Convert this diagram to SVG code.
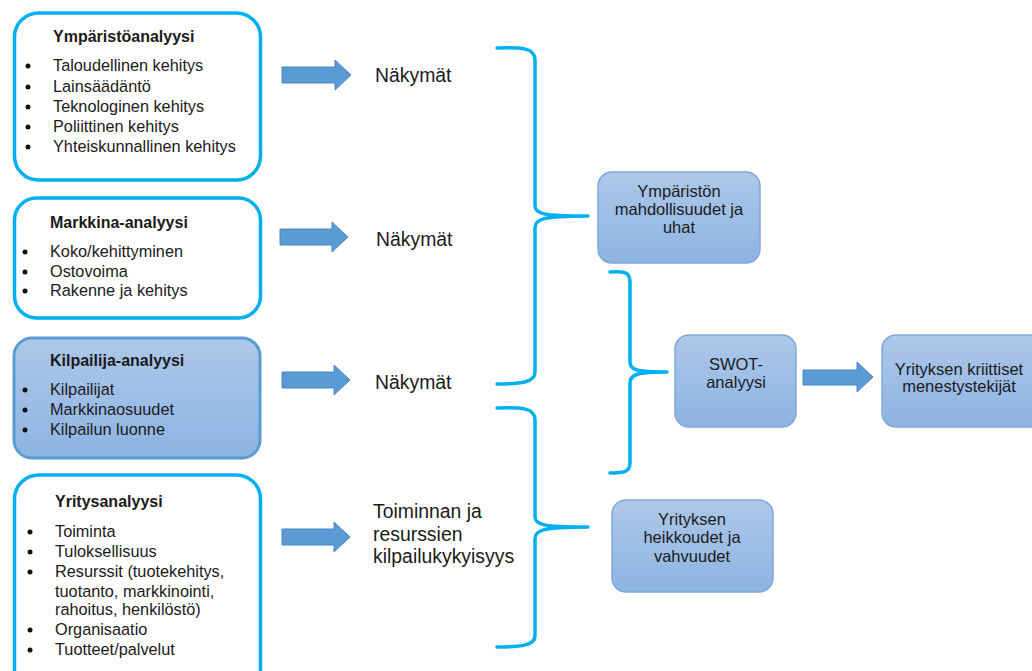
<svg xmlns="http://www.w3.org/2000/svg" width="1032" height="671" viewBox="0 0 1032 671">
  <defs>
    <linearGradient id="blueFill" x1="0" y1="0" x2="0" y2="1">
      <stop offset="0" stop-color="#adc8e9"/>
      <stop offset="1" stop-color="#8db3e2"/>
    </linearGradient>
    <style>
      text { font-family: "Liberation Sans", Arial, sans-serif; fill: #1a1a1a; }
      .title { font-size: 16px; font-weight: bold; }
      .item { font-size: 16.3px; }
      .big { font-size: 19.4px; }
      .ctr { font-size: 16.5px; text-anchor: middle; }
      .outline { fill: #ffffff; stroke: #00b0f0; stroke-width: 3.5; }
      .shaded { fill: url(#blueFill); stroke: #5b9bd5; stroke-width: 3; }
      .result { fill: url(#blueFill); stroke: #7ea9da; stroke-width: 1.5; }
      .bullet { fill: #111; }
      .arrow { fill: #5b9bd5; stroke: #4a85c2; stroke-width: 1; }
      .brace { fill: none; stroke: #00b0f0; stroke-width: 3.5; stroke-linecap: round; stroke-linejoin: round; }
    </style>
  </defs>

  <!-- Analysis boxes -->
  <g id="ymparistoanalyysi">
    <rect class="outline" x="14.5" y="13" width="246" height="167" rx="24"/>
    <text class="title" x="53" y="42">Ympäristöanalyysi</text>
    <circle class="bullet" cx="28" cy="66" r="2.5"/>
    <circle class="bullet" cx="28" cy="87" r="2.5"/>
    <circle class="bullet" cx="28" cy="107" r="2.5"/>
    <circle class="bullet" cx="28" cy="127" r="2.5"/>
    <circle class="bullet" cx="28" cy="147" r="2.5"/>
    <text class="item" x="53" y="71">Taloudellinen kehitys</text>
    <text class="item" x="53" y="92">Lainsäädäntö</text>
    <text class="item" x="53" y="112">Teknologinen kehitys</text>
    <text class="item" x="53" y="132">Poliittinen kehitys</text>
    <text class="item" x="53" y="152">Yhteiskunnallinen kehitys</text>
  </g>

  <g id="markkina-analyysi">
    <rect class="outline" x="14.5" y="198" width="246" height="120" rx="22"/>
    <text class="title" x="50" y="228">Markkina-analyysi</text>
    <circle class="bullet" cx="25" cy="252" r="2.5"/>
    <circle class="bullet" cx="25" cy="272" r="2.5"/>
    <circle class="bullet" cx="25" cy="291" r="2.5"/>
    <text class="item" x="50" y="257">Koko/kehittyminen</text>
    <text class="item" x="50" y="277">Ostovoima</text>
    <text class="item" x="50" y="296">Rakenne ja kehitys</text>
  </g>

  <g id="kilpailija-analyysi">
    <rect class="shaded" x="14" y="338" width="246" height="120" rx="18"/>
    <text class="title" x="50" y="366">Kilpailija-analyysi</text>
    <circle class="bullet" cx="25" cy="390" r="2.5"/>
    <circle class="bullet" cx="25" cy="410" r="2.5"/>
    <circle class="bullet" cx="25" cy="430" r="2.5"/>
    <text class="item" x="50" y="395">Kilpailijat</text>
    <text class="item" x="50" y="415">Markkinaosuudet</text>
    <text class="item" x="50" y="435">Kilpailun luonne</text>
  </g>

  <g id="yritysanalyysi">
    <rect class="outline" x="14.5" y="475" width="246" height="230" rx="24"/>
    <text class="title" x="55" y="507">Yritysanalyysi</text>
    <circle class="bullet" cx="30" cy="532" r="2.5"/>
    <circle class="bullet" cx="30" cy="552" r="2.5"/>
    <circle class="bullet" cx="30" cy="572" r="2.5"/>
    <circle class="bullet" cx="30" cy="630" r="2.5"/>
    <circle class="bullet" cx="30" cy="650" r="2.5"/>
    <text class="item" x="55" y="537">Toiminta</text>
    <text class="item" x="55" y="557">Tuloksellisuus</text>
    <text class="item" x="55" y="577">Resurssit (tuotekehitys,</text>
    <text class="item" x="55" y="597">tuotanto, markkinointi,</text>
    <text class="item" x="55" y="615">rahoitus, henkilöstö)</text>
    <text class="item" x="55" y="635">Organisaatio</text>
    <text class="item" x="55" y="655">Tuotteet/palvelut</text>
  </g>

  <!-- Outcome labels -->
  <g id="nakymat-1"><text class="big" x="375" y="82">Näkymät</text></g>
  <g id="nakymat-2"><text class="big" x="376" y="246">Näkymät</text></g>
  <g id="nakymat-3"><text class="big" x="375" y="389">Näkymät</text></g>
  <g id="toiminnan-ja-resurssien">
    <text class="big" x="373" y="518">Toiminnan ja</text>
    <text class="big" x="373" y="541">resurssien</text>
    <text class="big" x="373" y="563">kilpailukykyisyys</text>
  </g>

  <!-- Result boxes -->
  <g id="ympariston-mahdollisuudet">
    <rect class="result" x="598" y="172" width="162" height="91" rx="14"/>
    <text class="ctr" x="679" y="197">Ympäristön</text>
    <text class="ctr" x="679" y="215">mahdollisuudet ja</text>
    <text class="ctr" x="679" y="233">uhat</text>
  </g>

  <g id="swot-analyysi">
    <rect class="result" x="675" y="335" width="121" height="92" rx="14"/>
    <text class="ctr" x="736" y="370">SWOT-</text>
    <text class="ctr" x="736" y="388">analyysi</text>
  </g>

  <g id="kriittiset-menestystekijat">
    <rect class="result" x="882" y="335" width="170" height="92" rx="14"/>
    <text class="ctr" x="959" y="375">Yrityksen kriittiset</text>
    <text class="ctr" x="959" y="392">menestystekijät</text>
  </g>

  <g id="heikkoudet-ja-vahvuudet">
    <rect class="result" x="612" y="500" width="161" height="92" rx="14"/>
    <text class="ctr" x="692" y="525">Yrityksen</text>
    <text class="ctr" x="692" y="543">heikkoudet ja</text>
    <text class="ctr" x="692" y="562">vahvuudet</text>
  </g>

  <!-- Connectors: block arrows and braces -->
  <g id="connectors">
    <polygon class="arrow" points="282,67 335,67 335,60 351,75 335,90 335,83 282,83"/>
    <polygon class="arrow" points="280,229 332,229 332,222 348,237 332,252 332,245 280,245"/>
    <polygon class="arrow" points="282,372 334,372 334,365 350,380 334,395 334,388 282,388"/>
    <polygon class="arrow" points="282,529 334,529 334,522 350,537 334,552 334,545 282,545"/>
    <polygon class="arrow" points="803,370 857,370 857,362 873,377 857,392 857,385 803,385"/>

    <path class="brace" d="M497,48 C522,47 535,48 535,60 V205 C535,214 542,216 588,216 C542,216 535,219 535,228 V372 C535,382 522,384 497,384"/>
    <path class="brace" d="M610,272 C624,271 630,272 630,282 V362 C630,370 636,372 667,372 C636,372 630,375 630,383 V463 C630,472 624,473 610,473"/>
    <path class="brace" d="M497,408 C522,407 535,408 535,420 V516 C535,525 542,527 588,527 C542,527 535,530 535,539 V636 C535,645 522,647 497,647"/>
  </g>
</svg>
